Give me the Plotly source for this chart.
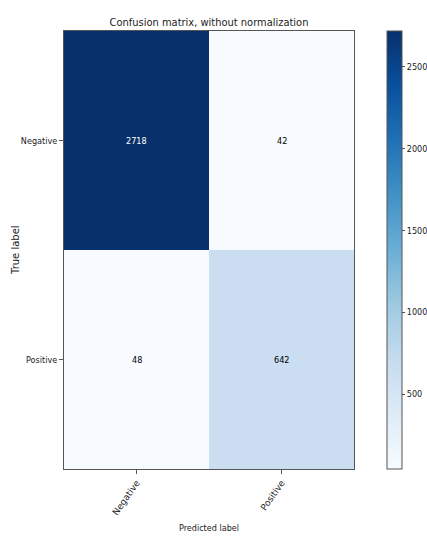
import plotly.graph_objects as go

classes = ["Negative", "Positive"]
matrix = [[2718, 42],
          [48, 642]]
cbar_ticks = [500, 1000, 1500, 2000, 2500]

zmin = min(min(r) for r in matrix)
zmax = max(max(r) for r in matrix)
thresh = zmax / 2.0
FONT = "DejaVu Sans Condensed, DejaVu Sans"

fig = go.Figure(go.Heatmap(
    z=matrix, x=classes, y=classes,
    colorscale="Blues", zmin=zmin, zmax=zmax,
    showscale=True, hoverinfo="skip",
    colorbar=dict(
        x=1.114, xanchor="left", xref="paper", xpad=0, ypad=0,
        y=0.5, yanchor="middle", len=1.0, lenmode="fraction",
        thickness=15, outlinewidth=1, outlinecolor="#555",
        tickvals=cbar_ticks, ticks="outside", ticklen=3,
        tickcolor="#555", tickfont=dict(size=9, color="#222", family=FONT),
    ),
))

for i, row in enumerate(matrix):
    for j, v in enumerate(row):
        fig.add_annotation(x=classes[j], y=classes[i], text=str(v), showarrow=False,
                           font=dict(size=9, family=FONT,
                                     color="white" if v > thresh else "black"))

# y-axis title placed as rotated text left of the tick labels
fig.add_annotation(text="True label", xref="paper", yref="paper", x=-0.169, y=0.5,
                   xanchor="center", yanchor="middle", textangle=-90, showarrow=False,
                   font=dict(size=10, family="DejaVu Sans", color="#222"))

fig.update_layout(
    width=427, height=538,
    margin=dict(l=64, r=73, t=31, b=69, autoexpand=False),
    paper_bgcolor="white", plot_bgcolor="white",
    title=dict(text="Confusion matrix, without normalization", x=0.5, xanchor="center",
               xref="paper", y=1, yref="paper", yanchor="bottom", pad=dict(b=5),
               font=dict(size=11, family=FONT, color="#222")),
    font=dict(family=FONT, color="#222"),
)
fig.update_xaxes(
    title=dict(text="Predicted label", font=dict(size=9), standoff=8),
    tickangle=-55, tickfont=dict(size=9, family="DejaVu Sans"), automargin=False,
    showline=True, mirror=True, linecolor="#555", linewidth=1,
    ticks="outside", ticklen=4, tickcolor="#555", showgrid=False, zeroline=False,
)
fig.update_yaxes(
    autorange="reversed", tickfont=dict(size=9), automargin=False,
    showline=True, mirror=True, linecolor="#555", linewidth=1,
    ticks="outside", ticklen=4, tickcolor="#555", showgrid=False, zeroline=False,
)

fig.write_html("out.html", config={"displayModeBar": False},
               post_script="document.body.style.margin='0';document.body.style.overflow='hidden';")
